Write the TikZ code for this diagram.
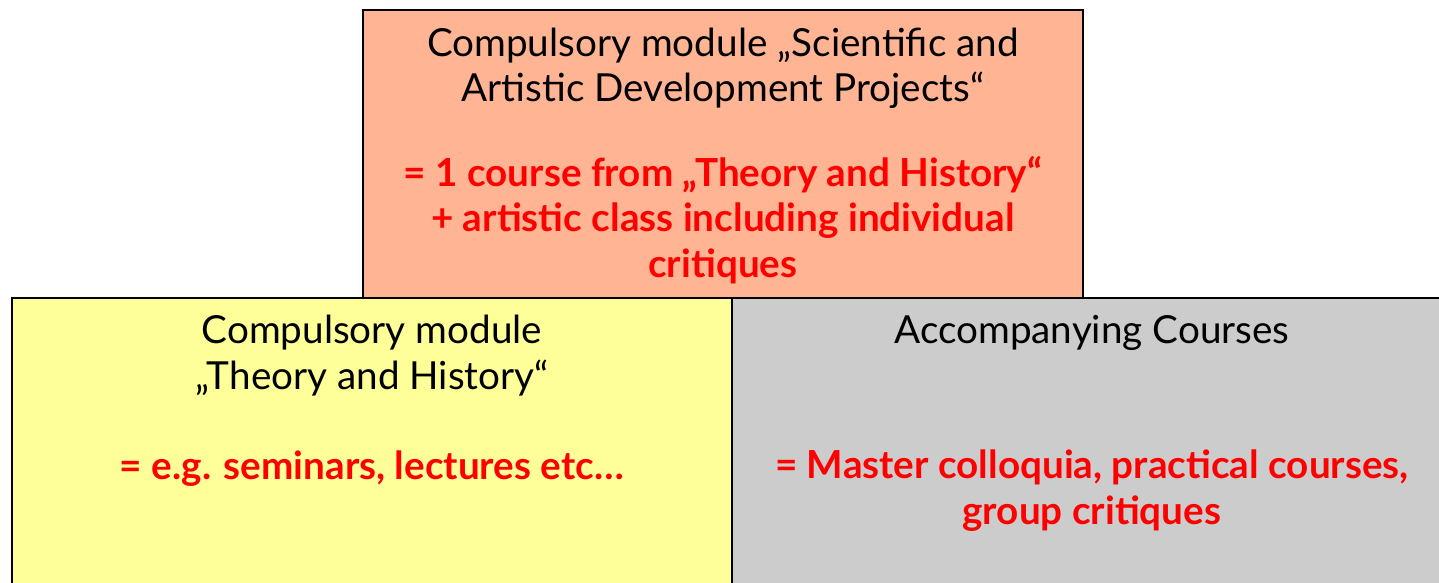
\documentclass[tikz,border=0pt]{standalone}
\usepackage{fontspec}
\setmainfont{Lato}
\usetikzlibrary{positioning}

\definecolor{projfill}{HTML}{FFB594}
\definecolor{theoryfill}{HTML}{FFFF99}
\definecolor{accfill}{HTML}{CCCCCC}
\definecolor{redtext}{HTML}{FF0000}

\tikzset{
  modbox/.style={draw=black, line width=1.1pt, anchor=north west, inner sep=0pt,
                 minimum width=14.4cm, minimum height=5.76cm},
  modtext/.style={align=center, inner sep=0pt, text=black,
                  font=\fontsize{22}{26}\selectfont},
}
\newcommand{\redline}[1]{\textcolor{redtext}{\bfseries #1}}

\begin{document}
\begin{tikzpicture}[x=0.02cm,y=-0.02cm]
  \useasboundingbox (0,0) rectangle (1439,582);
  \clip (0,0) rectangle (1439,582);

  % lower row first, the top box overlaps their upper edge
  \node[modbox, fill=theoryfill, minimum height=6.2cm] (theory) at (11,297) {};
  \node[modbox, fill=accfill, minimum height=6.2cm] (accomp) at (731,297) {};
  \node[modbox, fill=projfill] (proj) at (362,9) {};

  % texts
  \node[modtext, yshift=-0.04cm] (projtext) at (proj.center)
    {Compulsory module „Scientific and\\
     Artistic Development Projects“\\[22pt]
     \redline{= 1 course from „Theory and History“}\\
     \redline{+ artistic class including individual}\\
     \redline{critiques}};
  \node[modtext, anchor=north, below=0.36cm of theory.north] (theorytext)
    {Compulsory module\\
     „Theory and History“\\[25pt]
     \redline{= e.g. seminars, lectures etc…}};
  \node[modtext, anchor=north, below=0.36cm of accomp.north] (accomptext)
    {Accompanying Courses\\[51pt]
     \redline{= Master colloquia, practical courses,}\\
     \redline{group critiques}};
\end{tikzpicture}
\end{document}
